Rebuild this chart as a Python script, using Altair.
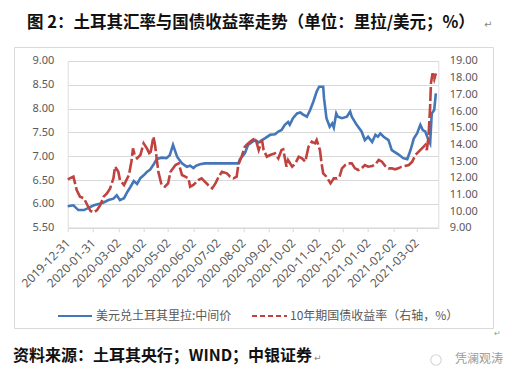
import altair as alt
import pandas as pd

# ---------------- data ----------------
usd_dates = [
    "2019-12-31", "2020-01-07", "2020-01-13", "2020-01-20", "2020-01-26", "2020-02-01",
    "2020-02-07", "2020-02-13", "2020-02-19", "2020-02-25", "2020-02-29", "2020-03-04",
    "2020-03-09", "2020-03-13", "2020-03-17", "2020-03-21", "2020-03-25", "2020-03-29",
    "2020-04-02", "2020-04-06", "2020-04-10", "2020-04-14", "2020-04-18", "2020-04-24",
    "2020-04-30", "2020-05-04", "2020-05-08", "2020-05-13", "2020-05-19", "2020-05-25",
    "2020-05-29", "2020-06-02", "2020-06-05", "2020-06-10", "2020-06-16", "2020-07-27",
    "2020-07-29", "2020-08-04", "2020-08-08", "2020-08-13", "2020-08-17", "2020-08-21",
    "2020-08-25", "2020-08-29", "2020-09-04", "2020-09-10", "2020-09-14", "2020-09-18",
    "2020-09-22", "2020-09-26", "2020-09-28", "2020-10-02", "2020-10-07", "2020-10-11",
    "2020-10-14", "2020-10-19", "2020-10-23", "2020-10-27", "2020-10-31", "2020-11-03",
    "2020-11-08", "2020-11-09", "2020-11-12", "2020-11-16", "2020-11-19", "2020-11-21",
    "2020-11-24", "2020-11-26", "2020-12-01", "2020-12-07", "2020-12-11", "2020-12-13",
    "2020-12-19", "2020-12-25", "2020-12-29", "2021-01-02", "2021-01-07", "2021-01-11",
    "2021-01-14", "2021-01-17", "2021-01-21", "2021-01-27", "2021-01-31", "2021-02-08",
    "2021-02-14", "2021-02-19", "2021-02-23", "2021-02-27", "2021-03-03", "2021-03-07",
    "2021-03-10", "2021-03-13", "2021-03-17", "2021-03-19", "2021-03-21", "2021-03-24",
    "2021-03-26",
]
usd_values = [
    5.95, 5.97, 5.87, 5.87, 5.92, 5.97,
    6.00, 6.03, 6.08, 6.11, 6.18, 6.08,
    6.12, 6.25, 6.36, 6.48, 6.42, 6.54,
    6.60, 6.67, 6.72, 6.82, 6.94, 6.97,
    6.96, 7.02, 7.24, 6.99, 6.85, 6.78,
    6.80, 6.75, 6.80, 6.83, 6.85, 6.85,
    6.94, 7.06, 7.24, 7.30, 7.34, 7.29,
    7.34, 7.38, 7.45, 7.46, 7.52, 7.55,
    7.66, 7.72, 7.66, 7.80, 7.90, 7.92,
    7.88, 7.83, 7.97, 8.15, 8.36, 8.46,
    8.46, 8.22, 7.80, 7.62, 7.69, 7.60,
    7.90, 7.83, 7.80, 7.83, 7.94, 7.83,
    7.66, 7.52, 7.34, 7.41, 7.30, 7.45,
    7.41, 7.48, 7.41, 7.34, 7.13, 7.04,
    6.96, 6.94, 7.13, 7.37, 7.48, 7.66,
    7.55, 7.52, 7.34, 7.27, 7.90, 7.97,
    8.32,
]

yield_dates = [
    "2019-12-31", "2020-01-07", "2020-01-11", "2020-01-15", "2020-01-20", "2020-01-24",
    "2020-01-28", "2020-02-01", "2020-02-05", "2020-02-09", "2020-02-13", "2020-02-17",
    "2020-02-21", "2020-02-25", "2020-02-27", "2020-03-02", "2020-03-04", "2020-03-09",
    "2020-03-11", "2020-03-15", "2020-03-18", "2020-03-20", "2020-03-22", "2020-03-25",
    "2020-03-29", "2020-04-02", "2020-04-06", "2020-04-10", "2020-04-14", "2020-04-16",
    "2020-04-18", "2020-04-20", "2020-04-24", "2020-04-28", "2020-05-02", "2020-05-05",
    "2020-05-11", "2020-05-15", "2020-05-19", "2020-05-23", "2020-05-27", "2020-05-29",
    "2020-06-02", "2020-06-08", "2020-06-12", "2020-06-16", "2020-06-20", "2020-06-25",
    "2020-06-29", "2020-07-03", "2020-07-07", "2020-07-13", "2020-07-17", "2020-07-21",
    "2020-07-25", "2020-07-27", "2020-07-31", "2020-08-04", "2020-08-08", "2020-08-13",
    "2020-08-17", "2020-08-21", "2020-08-25", "2020-08-27", "2020-08-31", "2020-09-04",
    "2020-09-10", "2020-09-14", "2020-09-18", "2020-09-20", "2020-09-24", "2020-09-26",
    "2020-10-01", "2020-10-05", "2020-10-09", "2020-10-13", "2020-10-17", "2020-10-21",
    "2020-10-25", "2020-10-29", "2020-10-31", "2020-11-04", "2020-11-06", "2020-11-08",
    "2020-11-12", "2020-11-17", "2020-11-21", "2020-11-25", "2020-11-28", "2020-12-01",
    "2020-12-05", "2020-12-09", "2020-12-13", "2020-12-17", "2020-12-21", "2020-12-25",
    "2020-12-29", "2021-01-02", "2021-01-07", "2021-01-11", "2021-01-15", "2021-01-19",
    "2021-01-23", "2021-01-27", "2021-01-31", "2021-02-04", "2021-02-08", "2021-02-12",
    "2021-02-16", "2021-02-21", "2021-02-25", "2021-03-01", "2021-03-05", "2021-03-09",
    "2021-03-13", "2021-03-15", "2021-03-17", "2021-03-19", "2021-03-20", "2021-03-22",
    "2021-03-24", "2021-03-26",
]
yield_values = [
    11.90, 12.06, 11.26, 10.86, 10.76, 10.36,
    10.00, 9.92, 10.06, 10.36, 10.86, 11.06,
    11.36, 11.96, 12.66, 12.36, 11.86, 11.56,
    11.76, 12.16, 12.96, 13.76, 13.36, 13.16,
    13.36, 14.06, 13.76, 13.36, 14.46, 13.96,
    13.16, 12.36, 11.56, 11.46, 11.66, 12.36,
    12.76, 12.86, 12.16, 12.06, 11.96, 11.46,
    11.56, 11.86, 11.96, 11.76, 11.56, 11.36,
    11.66, 12.06, 12.36, 12.26, 12.06, 11.96,
    12.06, 12.76, 13.26, 13.86, 14.06, 14.26,
    14.36, 13.66, 14.26, 13.66, 13.26, 13.36,
    13.46, 13.16, 13.66, 13.70, 12.66, 13.06,
    12.66, 12.86, 13.26, 13.16, 12.96, 13.86,
    14.16, 14.06, 14.26, 13.66, 12.86, 12.26,
    12.06, 11.66, 11.96, 11.96, 12.06, 12.56,
    12.76, 12.86, 12.86, 12.56, 12.46, 12.56,
    12.76, 12.66, 12.70, 12.80, 13.06, 12.96,
    12.70, 12.56, 12.56, 12.50, 12.56, 12.66,
    12.70, 12.76, 12.96, 13.36, 13.56, 13.76,
    13.96, 13.66, 14.46, 16.26, 17.66, 18.26,
    17.90, 18.26,
]

tick_dates = [
    "2019-12-31", "2020-01-31", "2020-03-02", "2020-04-02", "2020-05-02",
    "2020-06-02", "2020-07-02", "2020-08-02", "2020-09-02", "2020-10-02",
    "2020-11-02", "2020-12-02", "2021-01-02", "2021-02-02", "2021-03-02",
]
x_domain = ["2019-12-31", "2021-03-29"]
left_ticks = [5.5, 6.0, 6.5, 7.0, 7.5, 8.0, 8.5, 9.0]
right_ticks = [9, 10, 11, 12, 13, 14, 15, 16, 17, 18, 19]

series_names = ["美元兑土耳其里拉:中间价", "10年期国债收益率（右轴，%）"]
title_text = "图 2：土耳其汇率与国债收益率走势（单位：里拉/美元；%）"
source_text = "资料来源：土耳其央行；WIND；中银证券"
watermark_text = "凭澜观涛"

# ---------------- styling ----------------
BLUE = "#4477B8"
RED = "#C0423F"
GRID = "#D9D9D9"
LABEL = "#595959"
CJK = "Noto Sans CJK SC"

# plot-area origin in page pixels (used only to place decoration)
OX, OY = 67.7, 61.0
W, H = 370.6, 166.7


def dt(s):
    y, m, d = (int(p) for p in s.split("-"))
    return alt.DateTime(year=y, month=m, date=d, utc=True)


blue_df = pd.DataFrame({"date": usd_dates, "value": usd_values})
red_df = pd.DataFrame({"date": yield_dates, "value": yield_values})
dummy = pd.DataFrame({"k": [0]})

x_enc = alt.X(
    "date:T",
    scale=alt.Scale(type="utc", domain=[dt(x_domain[0]), dt(x_domain[1])], nice=False),
    axis=alt.Axis(
        values=[dt(s) for s in tick_dates],
        labelExpr="utcFormat(datum.value, '%Y-%m-%d')",
        labelAngle=-45,
        labelAlign="right",
        labelBaseline="middle",
        labelFontSize=12,
        labelColor=LABEL,
        labelFont="Noto Sans",
        labelPadding=9,
        tickSize=4,
        tickColor=GRID,
        domainColor=GRID,
        grid=False,
        title=None,
        labelOverlap=False,
    ),
    title=None,
)

blue_line = alt.Chart(blue_df).mark_line(color=BLUE, strokeWidth=2.6).encode(
    x=x_enc,
    y=alt.Y(
        "value:Q",
        scale=alt.Scale(domain=[5.5, 9.0], zero=False, nice=False),
        axis=alt.Axis(
            orient="left", values=left_ticks, format=".2f", grid=True, gridColor=GRID,
            domain=False, ticks=False, labelPadding=14, labelFontSize=11,
            labelColor=LABEL, labelFont="Noto Sans", title=None,
        ),
    ),
)

red_line = alt.Chart(red_df).mark_line(color=RED, strokeWidth=2.6, strokeDash=[14, 3]).encode(
    x=x_enc,
    y=alt.Y(
        "value:Q",
        scale=alt.Scale(domain=[9, 19], zero=False, nice=False),
        axis=alt.Axis(
            orient="right", values=right_ticks, format=".2f", grid=False,
            domain=False, ticks=False, labelPadding=11, labelFontSize=11,
            labelColor=LABEL, labelFont="Noto Sans", title=None,
        ),
    ),
)


def text_at(txt, px, py, size=12, color=LABEL, weight="normal", align="left", font=CJK):
    return alt.Chart(dummy).mark_text(
        text=txt, align=align, baseline="middle", fontSize=size, color=color,
        fontWeight=weight, font=font,
    ).encode(x=alt.value(px - OX), y=alt.value(py - OY))


def hline(px1, px2, py, color, dash=None, width=2.5):
    kw = dict(color=color, strokeWidth=width)
    if dash:
        kw["strokeDash"] = dash
    return alt.Chart(dummy).mark_rule(**kw).encode(
        x=alt.value(px1 - OX), x2=alt.value(px2 - OX), y=alt.value(py - OY)
    )


frame = alt.Chart(dummy).mark_rect(fillOpacity=0, stroke=GRID, strokeWidth=1).encode(
    x=alt.value(14.5 - OX), x2=alt.value(493.5 - OX),
    y=alt.value(47.5 - OY), y2=alt.value(328.5 - OY),
)

legend_layers = [
    hline(58, 92, 316, BLUE, width=2.2),
    text_at(series_names[0], 96, 316, size=12),
    hline(252, 287, 316, RED, dash=[5, 3], width=2.2),
    text_at(series_names[1], 290, 316, size=12),
]

decor = [
    text_at(title_text, 27, 23, size=16.5, color="#111111", weight="bold"),
    text_at("↵", 484, 25, size=10, color="#888888", font="DejaVu Sans"),
    text_at(source_text, 13, 356, size=16, color="#111111", weight="bold"),
    text_at("↵", 314, 358, size=9, color="#888888", font="DejaVu Sans"),
    text_at("↵", 494, 334, size=8, color="#999999", font="DejaVu Sans"),
    alt.Chart(dummy).mark_point(shape="circle", size=110, color="#C8C8C8", filled=False,
                                 strokeWidth=1.2).encode(x=alt.value(436 - OX), y=alt.value(360 - OY)),
    text_at(watermark_text, 455, 359, size=12, color="#9A9A9A"),
]

lines = alt.layer(blue_line, red_line).resolve_scale(y="independent")

chart = alt.layer(
    frame, lines, *legend_layers, *decor
).properties(
    width=W,
    height=H,
    autosize=alt.AutoSizeParams(type="none"),
    padding={"left": OX - 8, "top": OY - 8, "right": 70, "bottom": 140},
).configure_view(stroke=None).configure(background="white")

chart.save("out.html", embed_options={"renderer": "svg", "actions": False})
